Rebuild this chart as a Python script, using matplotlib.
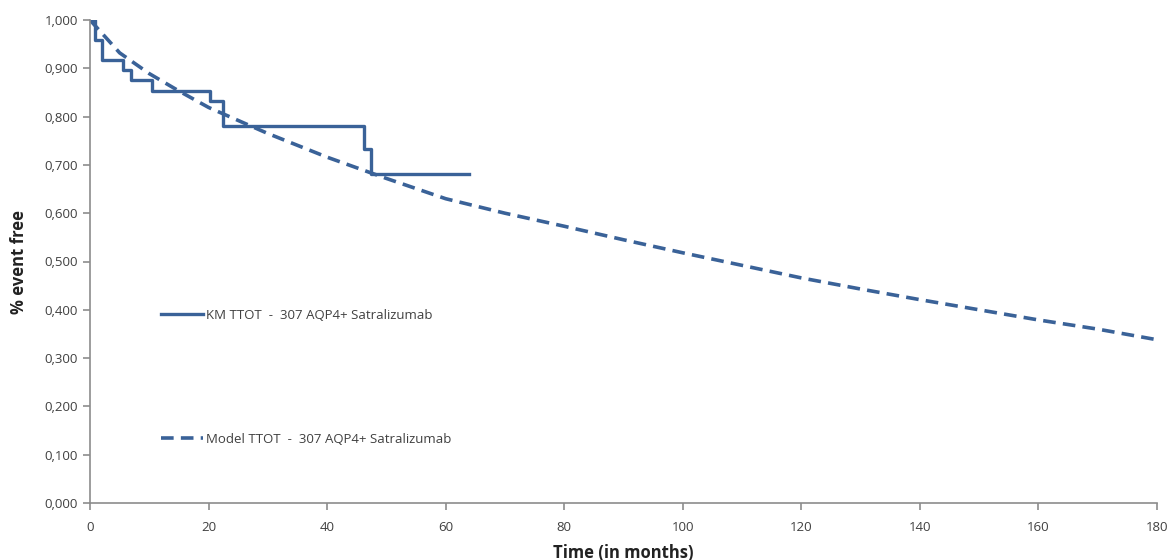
import matplotlib
matplotlib.use('Agg')
import matplotlib.pyplot as plt
from matplotlib.ticker import FuncFormatter

# KM TTOT (step data)
km_time = [0, 0.9, 2.0, 5.5, 7.0, 10.4, 20.2, 22.5, 46.2, 47.4, 63.9]
km_surv = [1.000, 0.958, 0.917, 0.896, 0.875, 0.854, 0.833, 0.781, 0.733, 0.681, 0.681]

model_time = [0, 5, 10, 15, 20, 30, 40, 50, 60, 70, 80, 90, 100, 110, 120,
              130, 140, 150, 160, 170, 180]
model_surv = [1.000, 0.932, 0.889, 0.853, 0.819, 0.765, 0.716, 0.672, 0.630, 0.600,
              0.573, 0.545, 0.518, 0.492, 0.466, 0.443, 0.421, 0.400, 0.379, 0.360, 0.338]

x_ticks = list(range(0, 181, 20))
y_ticks = [i / 10 for i in range(11)]

line_col = '#3a6298'
axis_col = '#8c8c8c'
text_col = '#404040'

plt.rcParams['font.family'] = ['Open Sans', 'DejaVu Sans']

fig = plt.figure(figsize=(11.73, 5.60), dpi=100)
ax = fig.add_axes([90 / 1173, 1 - 503 / 560, (1157 - 90) / 1173, (503 - 20) / 560])

ax.step(km_time, km_surv, where='post', color=line_col, linewidth=2.4,
        label='KM TTOT  -  307 AQP4+ Satralizumab')
ax.plot(model_time, model_surv, color=line_col, linewidth=2.6, linestyle=(0, (3.5, 2)),
        label='Model TTOT  -  307 AQP4+ Satralizumab')

ax.set_xlim(0, 180)
ax.set_ylim(0, 1)
ax.set_xticks(x_ticks)
ax.set_yticks(y_ticks)
ax.yaxis.set_major_formatter(FuncFormatter(lambda v, p: ('%.3f' % v).replace('.', ',')))

for s in ['top', 'right']:
    ax.spines[s].set_visible(False)
for s in ['left', 'bottom']:
    ax.spines[s].set_color(axis_col)
    ax.spines[s].set_linewidth(1.2)
ax.tick_params(axis='both', colors=axis_col, labelcolor=text_col, labelsize=9.5,
               length=5, width=1.2, direction='out')
ax.tick_params(axis='x', pad=8)

ax.set_xlabel('Time (in months)', fontsize=12, fontweight='bold', color='#222222', labelpad=7)
ax.set_ylabel('% event free', fontsize=12, fontweight='bold', color='#222222', labelpad=12)

ax.legend(loc='upper left', bbox_to_anchor=(161 / 1173, 1 - 309 / 560),
          bbox_transform=fig.transFigure, frameon=False, fontsize=9.5,
          handlelength=3.2, handletextpad=0.2, labelspacing=8.4,
          borderpad=0, borderaxespad=0, labelcolor=text_col)

fig.savefig('out.png', dpi=100)
